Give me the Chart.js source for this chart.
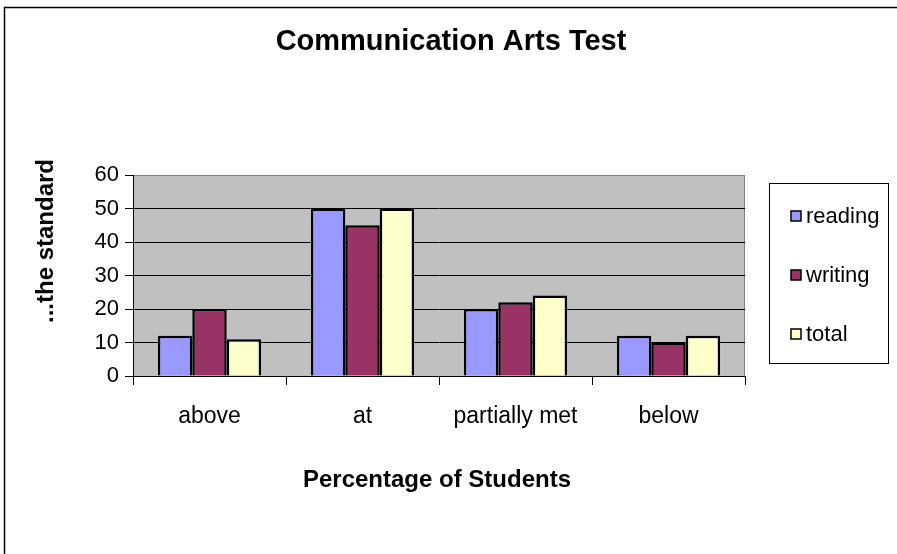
<!DOCTYPE html>
<html>
<head>
<meta charset="utf-8">
<title>Communication Arts Test</title>
<script src="https://cdn.jsdelivr.net/npm/chart.js@4.4.0/dist/chart.umd.min.js"></script>
<style>
  html, body { margin: 0; padding: 0; background: #fff; }
  #wrap { width: 897px; height: 554px; }
</style>
</head>
<body>
<div id="wrap"><canvas id="chart" width="897" height="554"></canvas></div>
<script>
// --- DATA ---
const categories = ['above', 'at', 'partially met', 'below'];
const reading = [12, 50, 20, 12];
const writing = [20, 45, 22, 10];
const total = [11, 50, 24, 12];
const yTicks = [0, 10, 20, 30, 40, 50, 60];

const chartTitle = 'Communication Arts Test';
const xTitle = 'Percentage of Students';
const yTitle = '...the standard';

const FONT = '"Liberation Sans", Arial, sans-serif';

// --- EXTRA DRAWING: background, frame, titles, legend ---
const decorPlugin = {
    id: 'decor',
    beforeDraw(chart) {
        const { ctx, chartArea: a } = chart;
        ctx.save();
        ctx.fillStyle = '#fff';
        ctx.fillRect(0, 0, chart.width, chart.height);
        // outer frame (only top and left edges are visible)
        ctx.strokeStyle = '#000';
        ctx.lineWidth = 1.5;
        ctx.strokeRect(4.5, 7.5, 1000, 1000);
        // plot area
        ctx.fillStyle = '#C0C0C0';
        ctx.fillRect(a.left, a.top, a.right - a.left, a.bottom - a.top);
        ctx.strokeStyle = '#808080';
        ctx.lineWidth = 1;
        ctx.strokeRect(a.left + 0.5, a.top + 0.5, a.right - a.left - 1, a.bottom - a.top);
        ctx.restore();
    },
    afterDraw(chart) {
        const { ctx } = chart;
        ctx.save();
        ctx.fillStyle = '#000';
        ctx.textAlign = 'center';
        ctx.textBaseline = 'middle';

        ctx.font = 'bold 29px ' + FONT;
        ctx.fillText(chartTitle, 451, 42);

        ctx.font = 'bold 24px ' + FONT;
        ctx.fillText(xTitle, 437, 480);

        ctx.save();
        ctx.translate(46, 241);
        ctx.rotate(-Math.PI / 2);
        ctx.fillText(yTitle, 0, 0);
        ctx.restore();

        // legend
        ctx.strokeStyle = '#000';
        ctx.lineWidth = 1;
        ctx.strokeRect(769.5, 183.5, 119, 180);
        ctx.font = '22px ' + FONT;
        ctx.textAlign = 'left';
        const rows = [216, 275, 334];
        chart.data.datasets.forEach((ds, i) => {
            const y = rows[i];
            ctx.fillStyle = ds.backgroundColor;
            ctx.fillRect(791, y - 5, 10, 10);
            ctx.lineWidth = 1.5;
            ctx.strokeRect(791, y - 5, 10, 10);
            ctx.fillStyle = '#000';
            ctx.fillText(ds.label, 806, y + 1);
        });
        ctx.restore();
    }
};

const getDataset = (label, data, color) => ({
    label: label,
    data: data,
    backgroundColor: color,
    borderColor: '#000',
    borderWidth: 2.5,
    barPercentage: 1.0,
    categoryPercentage: 0.675,
});

new Chart(document.getElementById('chart'), {
    type: 'bar',
    data: {
        labels: categories,
        datasets: [
            getDataset('reading', reading, '#9999FF'),
            getDataset('writing', writing, '#993366'),
            getDataset('total', total, '#FFFFCC'),
        ]
    },
    options: {
        responsive: false,
        animation: false,
        layout: { padding: { left: 0, top: 175, right: 152, bottom: 0 } },
        plugins: {
            legend: { display: false },
            title: { display: false },
            tooltip: { enabled: false }
        },
        scales: {
            x: {
                afterFit: (s) => { s.height = 178; },
                grid: { drawOnChartArea: false, drawTicks: true, tickLength: 9, color: '#000', offset: true },
                border: { display: true, color: '#000', width: 1 },
                ticks: { color: '#000', font: { family: FONT, size: 23 }, padding: 18, maxRotation: 0 }
            },
            y: {
                min: 0,
                max: 60,
                afterFit: (s) => { s.width = 133; },
                afterBuildTicks: (s) => { s.ticks = yTicks.map(v => ({ value: v })); },
                grid: {
                    color: (c) => (c.tick && c.tick.value === 60 ? '#808080' : '#000'),
                    tickColor: '#000',
                    tickLength: 8,
                    lineWidth: 1
                },
                border: { display: true, color: '#000', width: 1 },
                ticks: { color: '#000', font: { family: FONT, size: 22 }, padding: 6 }
            }
        }
    },
    plugins: [decorPlugin]
});
</script>
</body>
</html>
